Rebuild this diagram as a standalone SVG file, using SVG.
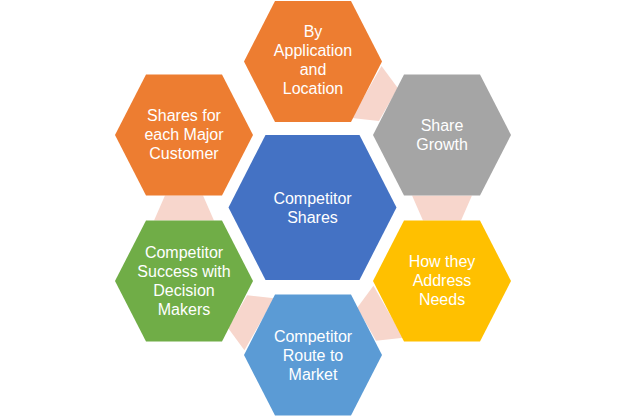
<svg xmlns="http://www.w3.org/2000/svg" xmlns:xlink="http://www.w3.org/1999/xlink" width="624" height="416" viewBox="0 0 624 416">
<style>
.lbl{font-family:"Liberation Sans",Arial,sans-serif;font-size:16px;fill:#FFFFFF;text-anchor:middle}
.conn{fill:#F7D6CC}
</style>
<defs>
<polygon id="hex" points="-38,-60.5 38,-60.5 69,0 38,60.5 -38,60.5 -69,0"/>
<polygon id="hexc" points="-47,-72.5 47,-72.5 84,0 47,72.5 -47,72.5 -84,0"/>
<path id="arr" d="M-12.5,-30 L12.5,-19 L12.5,19 L-12.5,30 Z"/>
</defs>
<rect width="624" height="416" fill="#FFFFFF"/>
<g id="connectors">
<use xlink:href="#arr" class="conn" transform="translate(377.5,98.25) rotate(29.7)"/>
<use xlink:href="#arr" class="conn" transform="translate(442,208) rotate(90)"/>
<use xlink:href="#arr" class="conn" transform="translate(377.5,318) rotate(150.2)"/>
<use xlink:href="#arr" class="conn" transform="translate(248.5,318) rotate(209.8)"/>
<use xlink:href="#arr" class="conn" transform="translate(184,208) rotate(-90)"/>
</g>
<g id="center">
<use xlink:href="#hexc" x="312.5" y="207.5" fill="#4472C4"/>
<text class="lbl" x="312.5"><tspan x="312.5" y="204">Competitor</tspan><tspan x="312.5" y="223">Shares</tspan></text>
</g>
<g id="by-application">
<use xlink:href="#hex" x="313" y="61.5" fill="#ED7D31"/>
<text class="lbl"><tspan x="313" y="37">By</tspan><tspan x="313" y="56">Application</tspan><tspan x="313" y="75">and</tspan><tspan x="313" y="94">Location</tspan></text>
</g>
<g id="share-growth">
<use xlink:href="#hex" x="442" y="135" fill="#A5A5A5"/>
<text class="lbl"><tspan x="442" y="131">Share</tspan><tspan x="442" y="150">Growth</tspan></text>
</g>
<g id="address-needs">
<use xlink:href="#hex" x="442" y="281" fill="#FFC000"/>
<text class="lbl"><tspan x="442" y="267">How they</tspan><tspan x="442" y="286">Address</tspan><tspan x="442" y="305">Needs</tspan></text>
</g>
<g id="route-to-market">
<use xlink:href="#hex" x="313" y="355" fill="#5B9BD5"/>
<text class="lbl"><tspan x="313" y="342">Competitor</tspan><tspan x="313" y="361">Route to</tspan><tspan x="313" y="380">Market</tspan></text>
</g>
<g id="decision-makers">
<use xlink:href="#hex" x="184" y="281" fill="#70AD47"/>
<text class="lbl"><tspan x="184" y="258">Competitor</tspan><tspan x="184" y="277">Success with</tspan><tspan x="184" y="296">Decision</tspan><tspan x="184" y="315">Makers</tspan></text>
</g>
<g id="major-customer">
<use xlink:href="#hex" x="184" y="135" fill="#ED7D31"/>
<text class="lbl"><tspan x="184" y="121">Shares for</tspan><tspan x="184" y="140">each Major</tspan><tspan x="184" y="159">Customer</tspan></text>
</g>
</svg>
